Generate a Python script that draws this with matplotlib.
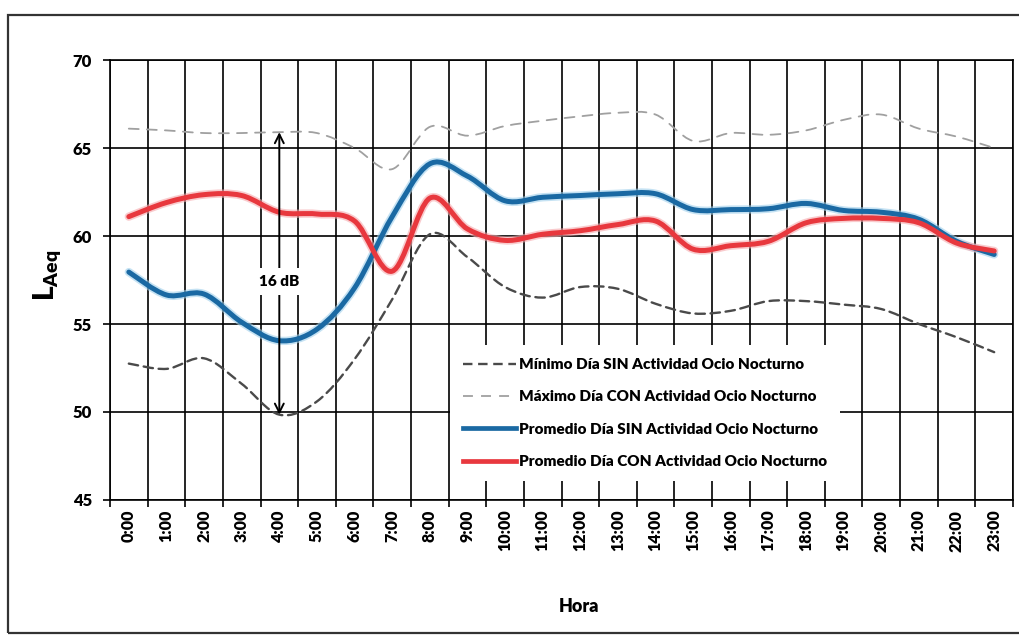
import matplotlib
matplotlib.use("Agg")
import matplotlib.pyplot as plt
import numpy as np
from matplotlib.path import Path
from matplotlib.patches import PathPatch, Rectangle
from matplotlib.lines import Line2D

plt.rcParams['font.family'] = ['Lato', 'DejaVu Sans']
plt.rcParams['font.weight'] = 'heavy'
plt.rcParams['mathtext.fontset'] = 'custom'
plt.rcParams['mathtext.bf'] = 'Lato:heavy'
plt.rcParams['mathtext.rm'] = 'Lato:heavy'

# Data
horas = ["0:00", "1:00", "2:00", "3:00", "4:00", "5:00", "6:00", "7:00",
         "8:00", "9:00", "10:00", "11:00", "12:00", "13:00", "14:00", "15:00",
         "16:00", "17:00", "18:00", "19:00", "20:00", "21:00", "22:00", "23:00"]
minimo_sin = [52.75, 52.45, 53.05, 51.6, 49.85, 50.6, 53.0, 56.4, 60.1, 58.8,
              57.1, 56.5, 57.1, 57.0, 56.15, 55.6, 55.75, 56.3, 56.3, 56.1,
              55.85, 55.0, 54.25, 53.4]
maximo_con = [66.1, 66.0, 65.85, 65.85, 65.9, 65.85, 65.0, 63.8, 66.2, 65.7,
              66.25, 66.55, 66.8, 67.0, 66.9, 65.4, 65.85, 65.75, 66.0, 66.6,
              66.9, 66.1, 65.65, 65.0]
promedio_sin = [57.95, 56.65, 56.7, 55.1, 54.05, 54.7, 57.05, 61.1, 64.1, 63.4,
                62.0, 62.2, 62.3, 62.4, 62.4, 61.5, 61.5, 61.55, 61.85, 61.45,
                61.35, 60.95, 59.7, 58.95]
promedio_con = [61.1, 61.9, 62.35, 62.3, 61.35, 61.25, 60.85, 58.0, 62.15, 60.4,
                59.75, 60.1, 60.3, 60.65, 60.85, 59.25, 59.45, 59.7, 60.75, 61.0,
                61.0, 60.75, 59.6, 59.15]
etiquetas = ["Mínimo Día SIN Actividad Ocio Nocturno",
             "Máximo Día CON Actividad Ocio Nocturno",
             "Promedio Día SIN Actividad Ocio Nocturno",
             "Promedio Día CON Actividad Ocio Nocturno"]


def smooth_path(ys):
    """Excel-like smoothed line: Catmull-Rom segments as cubic Beziers"""
    pts = np.column_stack([np.arange(len(ys), dtype=float), np.asarray(ys, float)])
    ext = np.vstack([pts[0], pts, pts[-1]])
    verts = [pts[0]]
    codes = [Path.MOVETO]
    for i in range(len(pts) - 1):
        p0, p1, p2, p3 = ext[i], ext[i + 1], ext[i + 2], ext[i + 3]
        verts += [p1 + (p2 - p0) / 6.0, p2 - (p3 - p1) / 6.0, p2]
        codes += [Path.CURVE4] * 3
    return Path(verts, codes)


fig = plt.figure(figsize=(10.2, 6.36), dpi=100)
ax = fig.add_axes([110 / 1020, 1 - 500 / 636, 903 / 1020, 440 / 636])

styles = [
    dict(color='#4a4a4a', lw=1.7, ls=(0, (4, 2.4))),
    dict(color='#a0a0a0', lw=1.3, ls=(0, (5.5, 4.5))),
    dict(color='#1a69a3', lw=3.6, ls='-'),
    dict(color='#e8383e', lw=3.6, ls='-'),
]
series = [minimo_sin, maximo_con, promedio_sin, promedio_con]
halos = [None, None, '#9fd0ec', '#f6a9ad']

for ys, st, halo in zip(series, styles, halos):
    if halo:
        ax.add_patch(PathPatch(smooth_path(ys), fill=False, edgecolor=halo,
                               lw=st['lw'] + 2.4, alpha=0.6, zorder=3,
                               capstyle='round', joinstyle='round'))
    ax.add_patch(PathPatch(smooth_path(ys), fill=False, edgecolor=st['color'],
                           lw=st['lw'], linestyle=st['ls'], zorder=4,
                           capstyle='round', joinstyle='round'))

ax.set_xlim(-0.5, len(horas) - 0.5)
ax.set_ylim(45, 70)

# axes, ticks, grid
ax.set_yticks(np.arange(45, 71, 5))
ax.set_xticks(np.arange(len(horas)))
ax.set_xticklabels(horas, rotation=90, fontsize=11.5, fontweight='heavy')
ax.set_xticks(np.arange(len(horas) + 1) - 0.5, minor=True)
ax.tick_params(axis='x', which='major', length=0, pad=7)
ax.tick_params(axis='x', which='minor', length=5, width=1.2, direction='out')
ax.tick_params(axis='y', which='major', length=5, width=1.2, direction='out',
               pad=8, labelsize=12)
for lab in ax.get_yticklabels():
    lab.set_fontweight('heavy')
ax.grid(True, axis='x', which='minor', color='black', lw=1.2, zorder=1)
ax.grid(True, axis='y', which='major', color='black', lw=1.2, zorder=1)
ax.set_axisbelow(True)
for sp in ax.spines.values():
    sp.set_linewidth(1.2)
    sp.set_color('black')

# 16 dB arrow between minimum and maximum at 4:00
i4 = horas.index("4:00")
ax.annotate('', xy=(i4, minimo_sin[i4]), xytext=(i4, maximo_con[i4]),
            arrowprops=dict(arrowstyle='<->', lw=1.4, color='black',
                            shrinkA=0, shrinkB=0, mutation_scale=16), zorder=5)
ax.text(i4, 57.4, '16 dB', ha='center', va='center', fontsize=11,
        fontweight='heavy', zorder=6,
        bbox=dict(facecolor='white', edgecolor='none', pad=5))

ax.set_ylabel(r'$\mathbf{L_{Aeq}}$', fontsize=20)
ax.yaxis.set_label_coords(-0.052, 0.51)
ax.set_xlabel('Hora', fontsize=13, fontweight='heavy')
ax.xaxis.set_label_coords(0.519, -0.222)

handles = [Line2D([], [], color=st['color'], lw=st['lw'] if st['lw'] < 3 else 3.4,
                  ls=st['ls']) for st in styles]
leg = ax.legend(handles, etiquetas, loc='upper left',
                bbox_to_anchor=(450 / 1020, 1 - 345 / 636),
                bbox_transform=fig.transFigure, borderaxespad=0, borderpad=0.85,
                frameon=True, fancybox=False, facecolor='white', edgecolor='none',
                framealpha=1, handlelength=3.5, handletextpad=0.15,
                labelspacing=1.27, prop=dict(family='Lato', weight='heavy', size=11))
leg.set_zorder(10)

# chart area border
fig.patches.append(Rectangle((8 / 1020, 1 - 633 / 636), 1.5, (633 - 15) / 636,
                             transform=fig.transFigure, fill=False,
                             edgecolor='#333333', lw=1.6))

fig.savefig('out.png', dpi=100)
plt.close(fig)
